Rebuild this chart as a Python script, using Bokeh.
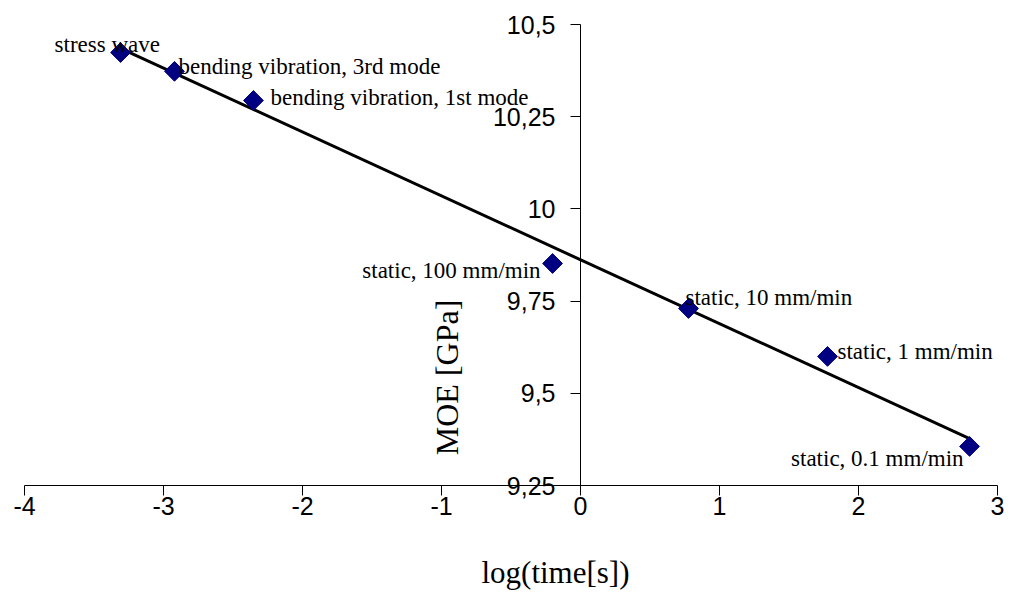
import numpy as np
from bokeh.plotting import figure
from bokeh.models import Range1d, FixedTicker, CustomJSTickFormatter, Label, ColumnDataSource
from bokeh.core.properties import value
from bokeh.embed import file_html
from bokeh.resources import INLINE

# data
log_time = [-3.309, -2.921, -2.353, -0.201, 0.777, 1.777, 2.799]
moe = [10.424, 10.373, 10.294, 9.852, 9.730, 9.600, 9.356]
names = ["stress wave", "bending vibration, 3rd mode", "bending vibration, 1st mode",
         "static, 100 mm/min", "static, 10 mm/min", "static, 1 mm/min", "static, 0.1 mm/min"]
x_ticks = [-4, -3, -2, -1, 0, 1, 2, 3]
y_ticks = [9.25, 9.5, 9.75, 10, 10.25, 10.5]
x_lo, x_hi = -4, 3
y_lo, y_hi = 9.25, 10.5

# label styling (offsets in px, alignment)
lab_dx = [-66, 4, 17, -12, -3, 10, -6]
lab_dy = [-8, -5, -3, 7, -11, -5, 12]
lab_align = ["left", "left", "left", "right", "left", "left", "right"]

# layout: the axes box inside the canvas (px margins)
W, H = 1007, 600
m_left, m_right, m_top, m_bottom = 24, 10, 24, 115
xpx = (W - m_left - m_right) / (x_hi - x_lo)
ypx = (H - m_top - m_bottom) / (y_hi - y_lo)
x_range = Range1d(x_lo - m_left / xpx, x_hi + m_right / xpx)
y_range = Range1d(y_lo - m_bottom / ypx, y_hi + m_top / ypx)
title_drop_px = 87  # centre of x title below the x axis

p = figure(width=W, height=H, output_backend="svg", toolbar_location=None,
           x_range=x_range, y_range=y_range, min_border=0)
p.outline_line_color = None
p.xgrid.visible = False
p.ygrid.visible = False
p.background_fill_color = "white"

# x axis at y = 9.25
xa = p.xaxis[0]
xa.fixed_location = y_lo
xa.bounds = (x_lo, x_hi)
xa.ticker = FixedTicker(ticks=x_ticks)
xa.formatter = CustomJSTickFormatter(code="return tick.toString();")
xa.minor_tick_line_color = None
xa.major_tick_out = 10
xa.major_tick_in = 0
xa.axis_line_color = "black"
xa.major_tick_line_color = "black"
xa.major_label_text_font = "Liberation Sans"
xa.major_label_text_font_size = "25px"
xa.major_label_text_color = "black"
xa.major_label_standoff = 1

# y axis crossing at x = 0
ya = p.yaxis[0]
ya.fixed_location = 0
ya.bounds = (y_lo, y_hi)
ya.ticker = FixedTicker(ticks=y_ticks)
ya.formatter = CustomJSTickFormatter(code="return tick.toString().replace('.', ',');")
ya.minor_tick_line_color = None
ya.major_tick_out = 10
ya.major_tick_in = 0
ya.axis_line_color = "black"
ya.major_tick_line_color = "black"
ya.major_label_text_font = "Liberation Sans"
ya.major_label_text_font_size = "25px"
ya.major_label_text_color = "black"
ya.major_label_standoff = 15

# axis titles
p.add_layout(Label(x=-0.957, y=9.543, text="MOE [GPa]", angle=np.pi / 2,
                   text_align="center", text_baseline="middle",
                   text_font="Liberation Serif", text_font_size="32px", text_color="black"))
p.add_layout(Label(x=-0.18, y=y_lo - title_drop_px / ypx,
                   text="log(time[s])",
                   text_align="center", text_baseline="middle",
                   text_font="Liberation Serif", text_font_size="31px", text_color="black"))

# trend line (linear fit)
k, b = np.polyfit(log_time, moe, 1)
xs = [min(log_time), max(log_time)]
p.line(xs, [k * v + b for v in xs], line_color="black", line_width=3)

src = ColumnDataSource(dict(x=log_time, y=moe, name=names, dx=lab_dx, dy=lab_dy, al=lab_align))
p.scatter("x", "y", source=src, marker="square", angle=np.pi / 4, size=14,
          fill_color="#000080", line_color="#000080")
p.text("x", "y", text="name", source=src, x_offset="dx", y_offset="dy",
       text_align="al", text_baseline="alphabetic",
       text_font=value("Liberation Serif"), text_font_size="23px", text_color="black")

open("out.html", "w").write(file_html(p, INLINE))
